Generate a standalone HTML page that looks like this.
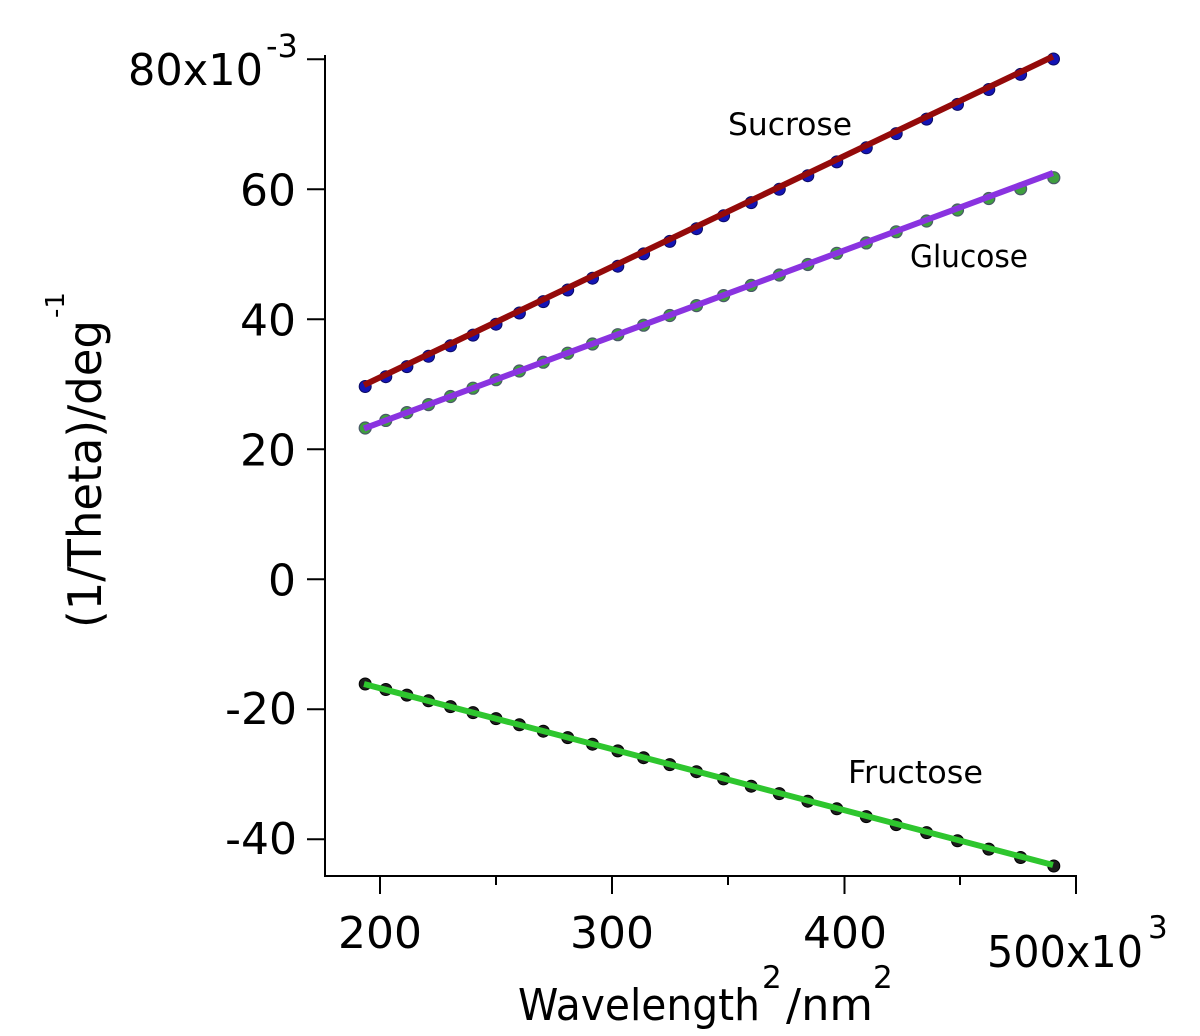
<!DOCTYPE html>
<html>
<head>
<meta charset="utf-8">
<style>
  html, body { margin: 0; padding: 0; background: #ffffff; }
  svg { display: block; }
  text { font-family: "DejaVu Sans", "Liberation Sans", sans-serif; fill: #000; }
</style>
</head>
<body>
<svg width="1200" height="1036" viewBox="0 0 1200 1036" xmlns="http://www.w3.org/2000/svg">
  <rect x="0" y="0" width="1200" height="1036" fill="#ffffff"/>

  <!-- Axes -->
  <g stroke="#000" stroke-width="2" fill="none">
    <line x1="325" y1="55" x2="325" y2="877"/>
    <line x1="324" y1="876" x2="1077" y2="876"/>
    <line x1="307" y1="59.3" x2="325" y2="59.3"/>
    <line x1="307" y1="189.3" x2="325" y2="189.3"/>
    <line x1="307" y1="319.3" x2="325" y2="319.3"/>
    <line x1="307" y1="449.3" x2="325" y2="449.3"/>
    <line x1="307" y1="579.3" x2="325" y2="579.3"/>
    <line x1="307" y1="709.3" x2="325" y2="709.3"/>
    <line x1="307" y1="839.3" x2="325" y2="839.3"/>
    <line x1="380" y1="876" x2="380" y2="894"/>
    <line x1="612" y1="876" x2="612" y2="894"/>
    <line x1="844.5" y1="876" x2="844.5" y2="894"/>
    <line x1="1076" y1="876" x2="1076" y2="894"/>
    <line x1="496" y1="876" x2="496" y2="885"/>
    <line x1="728" y1="876" x2="728" y2="885"/>
    <line x1="960" y1="876" x2="960" y2="885"/>
  </g>

  <!-- Y tick labels -->
  <g font-size="44">
    <text x="128" y="85" textLength="135" lengthAdjust="spacingAndGlyphs">80x10</text>
    <text x="266" y="57" font-size="32">-3</text>
    <text x="296" y="205.5" text-anchor="end">60</text>
    <text x="296" y="335.5" text-anchor="end">40</text>
    <text x="296" y="465.5" text-anchor="end">20</text>
    <text x="296" y="595.5" text-anchor="end">0</text>
    <text x="297" y="724" text-anchor="end">-20</text>
    <text x="297" y="854" text-anchor="end">-40</text>
  </g>

  <!-- X tick labels -->
  <g font-size="44">
    <text x="380" y="948" text-anchor="middle">200</text>
    <text x="612" y="948" text-anchor="middle">300</text>
    <text x="845" y="948" text-anchor="middle">400</text>
    <text x="987" y="967" textLength="156" lengthAdjust="spacingAndGlyphs">500x10</text>
    <text x="1148" y="938" font-size="31">3</text>
  </g>

  <!-- X title -->
  <text x="518" y="1020" font-size="44" textLength="242" lengthAdjust="spacingAndGlyphs">Wavelength</text>
  <text x="762" y="988" font-size="31">2</text>
  <text x="786" y="1020" font-size="44" textLength="87" lengthAdjust="spacingAndGlyphs">/nm</text>
  <text x="873" y="988" font-size="31">2</text>

  <!-- Y title -->
  <text transform="translate(101,628) rotate(-90)" font-size="46" textLength="308" lengthAdjust="spacingAndGlyphs">(1/Theta)/deg</text>
  <text transform="translate(64,318) rotate(-90)" font-size="26">-1</text>

  <!-- Series labels -->
  <text x="728" y="135" font-size="31" textLength="124" lengthAdjust="spacingAndGlyphs">Sucrose</text>
  <text x="910" y="267" font-size="31" textLength="118" lengthAdjust="spacingAndGlyphs">Glucose</text>
  <text x="848" y="783" font-size="31" textLength="135" lengthAdjust="spacingAndGlyphs">Fructose</text>

  <!-- Sucrose markers -->
  <g fill="#1414b4" stroke="#0a0a60" stroke-width="1">
    <circle cx="365.2" cy="386.5" r="6"/>
    <circle cx="385.8" cy="376.7" r="6"/>
    <circle cx="406.9" cy="366.6" r="6"/>
    <circle cx="428.5" cy="356.3" r="6"/>
    <circle cx="450.5" cy="345.8" r="6"/>
    <circle cx="473.0" cy="335.1" r="6"/>
    <circle cx="496.0" cy="324.2" r="6"/>
    <circle cx="519.4" cy="313.0" r="6"/>
    <circle cx="543.3" cy="301.6" r="6"/>
    <circle cx="567.7" cy="290.0" r="6"/>
    <circle cx="592.5" cy="278.2" r="6"/>
    <circle cx="617.8" cy="266.2" r="6"/>
    <circle cx="643.6" cy="253.9" r="6"/>
    <circle cx="669.8" cy="241.4" r="6"/>
    <circle cx="696.5" cy="228.7" r="6"/>
    <circle cx="723.6" cy="215.8" r="6"/>
    <circle cx="751.2" cy="202.6" r="6"/>
    <circle cx="779.3" cy="189.3" r="6"/>
    <circle cx="807.8" cy="175.7" r="6"/>
    <circle cx="836.8" cy="161.9" r="6"/>
    <circle cx="866.3" cy="147.8" r="6"/>
    <circle cx="896.2" cy="133.6" r="6"/>
    <circle cx="926.6" cy="119.1" r="6"/>
    <circle cx="957.5" cy="104.4" r="6"/>
    <circle cx="988.8" cy="89.5" r="6"/>
    <circle cx="1020.6" cy="74.4" r="6"/>
    <circle cx="1053.5" cy="59" r="6"/>
  </g>
  <line x1="364" y1="385" x2="1053" y2="56.5" stroke="#940a0a" stroke-width="6"/>

  <!-- Glucose markers -->
  <g fill="#3f9f3f" stroke="#4a5868" stroke-width="1.2">
    <circle cx="365.2" cy="428" r="6"/>
    <circle cx="385.8" cy="420.4" r="6"/>
    <circle cx="406.9" cy="412.6" r="6"/>
    <circle cx="428.5" cy="404.6" r="6"/>
    <circle cx="450.5" cy="396.5" r="6"/>
    <circle cx="473.0" cy="388.2" r="6"/>
    <circle cx="496.0" cy="379.7" r="6"/>
    <circle cx="519.4" cy="371.0" r="6"/>
    <circle cx="543.3" cy="362.2" r="6"/>
    <circle cx="567.7" cy="353.2" r="6"/>
    <circle cx="592.5" cy="344.0" r="6"/>
    <circle cx="617.8" cy="334.7" r="6"/>
    <circle cx="643.6" cy="325.2" r="6"/>
    <circle cx="669.8" cy="315.5" r="6"/>
    <circle cx="696.5" cy="305.6" r="6"/>
    <circle cx="723.6" cy="295.6" r="6"/>
    <circle cx="751.2" cy="285.4" r="6"/>
    <circle cx="779.3" cy="275.0" r="6"/>
    <circle cx="807.8" cy="264.5" r="6"/>
    <circle cx="836.8" cy="253.3" r="6"/>
    <circle cx="866.3" cy="242.9" r="6"/>
    <circle cx="896.2" cy="231.8" r="6"/>
    <circle cx="926.6" cy="221.0" r="6"/>
    <circle cx="957.5" cy="210.0" r="6"/>
    <circle cx="988.8" cy="198.5" r="6"/>
    <circle cx="1020.6" cy="188.8" r="6"/>
    <circle cx="1053.8" cy="177.7" r="6"/>
  </g>
  <line x1="364" y1="428.5" x2="1053" y2="173" stroke="#8a33e0" stroke-width="6"/>

  <!-- Fructose markers -->
  <g fill="#1c1c1c" stroke="#000" stroke-width="1">
    <circle cx="365.2" cy="684" r="6"/>
    <circle cx="385.8" cy="689.5" r="6"/>
    <circle cx="406.9" cy="695.1" r="6"/>
    <circle cx="428.5" cy="700.8" r="6"/>
    <circle cx="450.5" cy="706.6" r="6"/>
    <circle cx="473.0" cy="712.6" r="6"/>
    <circle cx="496.0" cy="718.6" r="6"/>
    <circle cx="519.4" cy="724.8" r="6"/>
    <circle cx="543.3" cy="731.2" r="6"/>
    <circle cx="567.7" cy="737.6" r="6"/>
    <circle cx="592.5" cy="744.2" r="6"/>
    <circle cx="617.8" cy="750.9" r="6"/>
    <circle cx="643.6" cy="757.7" r="6"/>
    <circle cx="669.8" cy="764.6" r="6"/>
    <circle cx="696.5" cy="771.7" r="6"/>
    <circle cx="723.6" cy="778.9" r="6"/>
    <circle cx="751.2" cy="786.2" r="6"/>
    <circle cx="779.3" cy="793.6" r="6"/>
    <circle cx="807.8" cy="801.2" r="6"/>
    <circle cx="836.8" cy="808.8" r="6"/>
    <circle cx="866.3" cy="816.6" r="6"/>
    <circle cx="896.2" cy="824.6" r="6"/>
    <circle cx="926.6" cy="832.6" r="6"/>
    <circle cx="957.5" cy="840.8" r="6"/>
    <circle cx="988.8" cy="849.1" r="6"/>
    <circle cx="1020.6" cy="857.5" r="6"/>
    <circle cx="1053.8" cy="866" r="6"/>
  </g>
  <line x1="364" y1="684" x2="1053" y2="865" stroke="#2ec62e" stroke-width="6"/>
</svg>
</body>
</html>
